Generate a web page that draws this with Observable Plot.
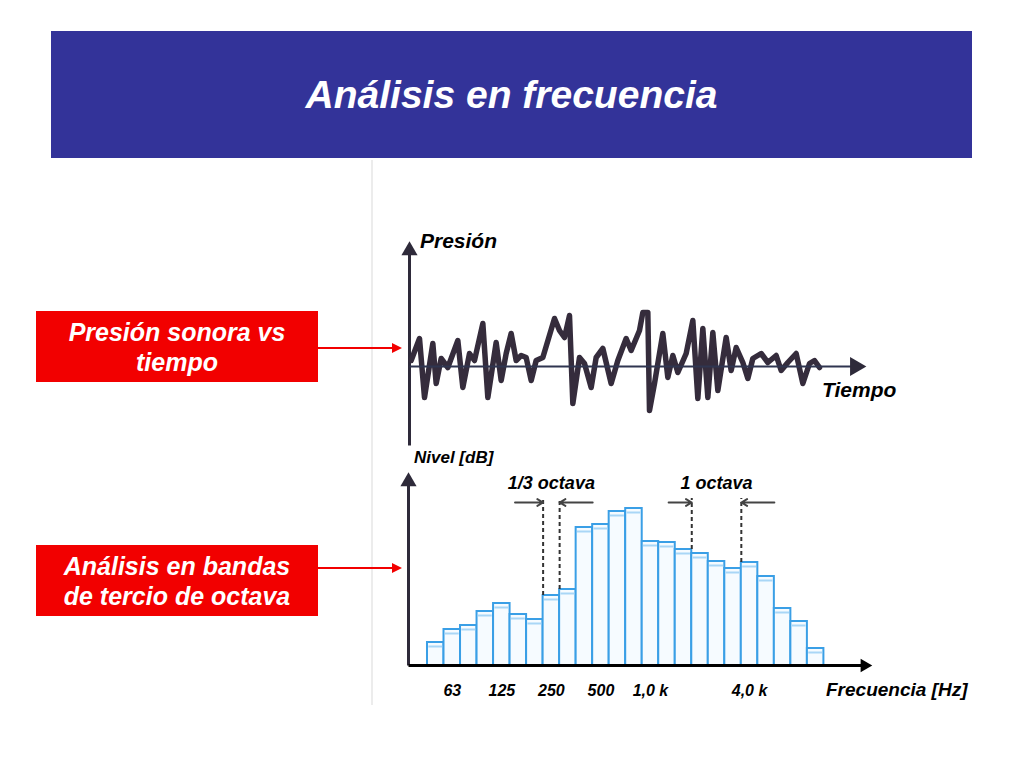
<!DOCTYPE html>
<html>
<head>
<meta charset="utf-8">
<script src="https://cdn.jsdelivr.net/npm/d3@7"></script>
<script src="https://cdn.jsdelivr.net/npm/@observablehq/plot@0.6"></script>
<style>
  body { margin: 0; background: #fff; font-family: "Liberation Sans", Arial, sans-serif; }
  #page { position: relative; width: 1024px; height: 768px; overflow: hidden; background: #fff; }
  .abs { position: absolute; }
  #banner { left: 51px; top: 31px; width: 921px; height: 127px; background: #333399; color: #fff;
    font-weight: bold; font-style: italic; font-size: 39px; display: flex; align-items: center; justify-content: center; }
  .redbox { left: 36px; width: 282px; height: 71px; background: #f20000; color: #fff; font-weight: bold;
    font-style: italic; font-size: 25px; line-height: 30px; display: flex; align-items: center;
    justify-content: center; text-align: center; }
  .lab { font-weight: bold; font-style: italic; color: #000; white-space: nowrap; line-height: 1; }
  #scanline { left: 371px; top: 160px; width: 2px; height: 545px; background: #ececec; }
  .plotwrap svg { overflow: visible; }
  .plotwrap svg text { font-family: "Liberation Sans", Arial, sans-serif; }
  #bands g[aria-label="x-axis tick label"] text { font-size: 16px !important; font-weight: bold !important; font-style: italic !important; fill: #000; }
</style>
</head>
<body>
<div id="page">
  <div id="banner" class="abs">Análisis en frecuencia</div>
  <div id="scanline" class="abs"></div>
  <div class="abs redbox" style="top:311px">Presión sonora vs<br>tiempo</div>
  <div class="abs redbox" style="top:545px">Análisis en bandas<br>de tercio de octava</div>
  <svg class="abs" style="left:318px;top:330px" width="90" height="260">
    <line x1="0" y1="18" x2="80" y2="18" stroke="#f20000" stroke-width="2"/>
    <path d="M74,13 L84,18 L74,23 Z" fill="#f20000"/>
    <line x1="0" y1="238" x2="80" y2="238" stroke="#f20000" stroke-width="2"/>
    <path d="M74,233 L84,238 L74,243 Z" fill="#f20000"/>
  </svg>
  <div id="wave" class="abs plotwrap" style="left:380px;top:225px"></div>
  <div id="bands" class="abs plotwrap" style="left:380px;top:440px"></div>
  <div class="abs lab" style="left:420px;top:230px;font-size:21px">Presión</div>
  <div class="abs lab" style="left:822px;top:379px;font-size:21px">Tiempo</div>
  <div class="abs lab" style="left:414px;top:449px;font-size:17px">Nivel [dB]</div>
  <div class="abs lab" style="left:826px;top:680px;font-size:19px">Frecuencia [Hz]</div>
</div>
<script>
// ---- Pressure vs time ----
const timeMs = [5,30,45,70,80,95,115,145,160,180,195,220,235,260,275,290,305,320,335,350,
  365,380,400,435,450,465,480,490,510,525,545,560,580,605,625,650,665,690,700,715,
  720,735,760,775,790,805,830,850,865,880,895,910,925,950,965,980,1000,1015,1030,1055,
  1075,1100,1115,1135,1160,1180,1200,1215,1230];
const pressure = [6,28,-31,23,-17,8,-1,26,-21,13,6,43,-31,24,-14,13,33,6,11,9,
  -14,6,9,48,36,29,51,-37,9,3,-21,9,18,-17,6,28,16,36,54,54,
  -44,-17,33,-11,11,-6,13,46,-32,38,-31,34,-24,29,-4,19,4,-12,8,13,
  4,11,-4,4,13,-17,3,6,-1];
const timeDomain = [0, 1350];
const pressureDomain = [-79, 119];

// ---- 1/3 octave band levels ----
const bandLabels = ["50","63","80","100","125","160","200","250","315","400","500","630",
  "800","1,0 k","1,25 k","1,6 k","2,0 k","2,5 k","3,15 k","4,0 k","5,0 k","6,3 k","8,0 k","10 k"];
const levels = [23,36,40,54,62,51,46,70,76,138,141,154,157,124,123,116,112,104,97,103,89,57,44,17];
const shownTicks = ["63","125","250","500","1,0 k","4,0 k"];
const spanNames = ["1/3 octava", "1 octava"];
const spanFrom = [7, 16];
const spanTo = [8, 19];
const bandDomain = [-1.15, 26.7];
const levelDomain = [0, 188];

const ink = "#2e2a3a";

// Waveform plot
const wave = timeMs.map((t, i) => ({t, p: pressure[i]}));
const waveAxes = [{x1: timeDomain[0], y1: 0, x2: timeDomain[1], y2: 0}];
const waveY = [{x1: timeDomain[0], y1: pressureDomain[0], x2: timeDomain[0], y2: pressureDomain[1]}];
const plot1 = Plot.plot({
  width: 520, height: 240,
  marginLeft: 29, marginRight: 41, marginTop: 22, marginBottom: 20,
  x: {domain: timeDomain, axis: null},
  y: {domain: pressureDomain, axis: null},
  marks: [
    Plot.link(waveY, {x1: "x1", y1: "y1", x2: "x2", y2: "y2", stroke: ink, strokeWidth: 3}),
    Plot.dot(waveY, {x: "x2", y: "y2", symbol: "triangle", r: 6, fill: ink, dy: 3}),
    Plot.line(wave, {x: "t", y: "p", stroke: "#352c3c", strokeWidth: 5.5, strokeLinejoin: "round", strokeLinecap: "round"}),
    Plot.link(waveAxes, {x1: "x1", y1: "y1", x2: "x2", y2: "y2", stroke: "#2f3550", strokeWidth: 2}),
    Plot.dot(waveAxes, {x: "x2", y: "y2", symbol: "triangle", r: 7, fill: ink, rotate: 90, dx: -4})
  ]
});
document.getElementById("wave").appendChild(plot1);

// Band plot
const bars = levels.map((v, i) => ({i, label: bandLabels[i], level: v}));
const spanLines = [];
const spanArrows = [];
const spanText = [];
const lineTop = 167, arrowLevel = 163, textLevel = 182;
spanNames.forEach((name, k) => {
  const a = spanFrom[k], b = spanTo[k];
  [a, b].forEach(e => spanLines.push({x: e, y1: Math.max(levels[e - 1] ?? 0, levels[e]), y2: lineTop}));
  const w = k === 0 ? 1.7 : 1.4;
  spanArrows.push({x1: a - w, x2: a, y: arrowLevel});
  spanArrows.push({x1: b + 2, x2: b, y: arrowLevel});
  spanText.push({x: (a + b) / 2, y: textLevel, name});
});
const bandAxes = [{x1: bandDomain[0], y1: 0, x2: bandDomain[1], y2: 0}];
const bandY = [{x1: bandDomain[0], y1: 0, x2: bandDomain[0], y2: levelDomain[1]}];

const plot2 = Plot.plot({
  width: 620, height: 270,
  marginLeft: 28, marginRight: 132, marginTop: 37, marginBottom: 45,
  x: {domain: bandDomain, axis: null},
  y: {domain: levelDomain, axis: null},
  marks: [
    Plot.rect(bars, {x1: "i", x2: d => d.i + 1, y1: () => 0, y2: "level", fill: "#f6fbff", stroke: "#3a9fe6", strokeWidth: 2}),
    Plot.ruleY(bars, {x1: d => d.i + 0.08, x2: d => d.i + 0.92, y: "level", dy: 4, stroke: "#a9d6f6", strokeWidth: 2}),
    Plot.ruleX(spanLines, {x: "x", y1: "y1", y2: "y2", stroke: "#333", strokeWidth: 2, strokeDasharray: "4,3"}),
    Plot.arrow(spanArrows, {x1: "x1", x2: "x2", y1: "y", y2: "y", stroke: "#444", strokeWidth: 2, headLength: 5}),
    Plot.text(spanText, {x: "x", y: "y", text: "name", fontSize: 18, fontWeight: "bold", fontStyle: "italic", fill: "#000"}),
    Plot.link(bandY, {x1: "x1", y1: "y1", x2: "x2", y2: "y2", stroke: ink, strokeWidth: 3}),
    Plot.dot(bandY, {x: "x2", y: "y2", symbol: "triangle", r: 6, fill: ink, dy: 4}),
    Plot.link(bandAxes, {x1: "x1", y1: "y1", x2: "x2", y2: "y2", stroke: "#000", strokeWidth: 3}),
    Plot.dot(bandAxes, {x: "x2", y: "y2", symbol: "triangle", r: 5, fill: "#000", rotate: 90, dx: -4}),
    Plot.axisX({
      ticks: shownTicks.map(l => bandLabels.indexOf(l) + 0.5),
      tickFormat: v => bandLabels[Math.floor(v)],
      tickSize: 0, tickPadding: 19, fontSize: 16, fontWeight: "bold", fontStyle: "italic",
      fill: "#000", label: null
    })
  ]
});
document.getElementById("bands").appendChild(plot2);
</script>
</body>
</html>
